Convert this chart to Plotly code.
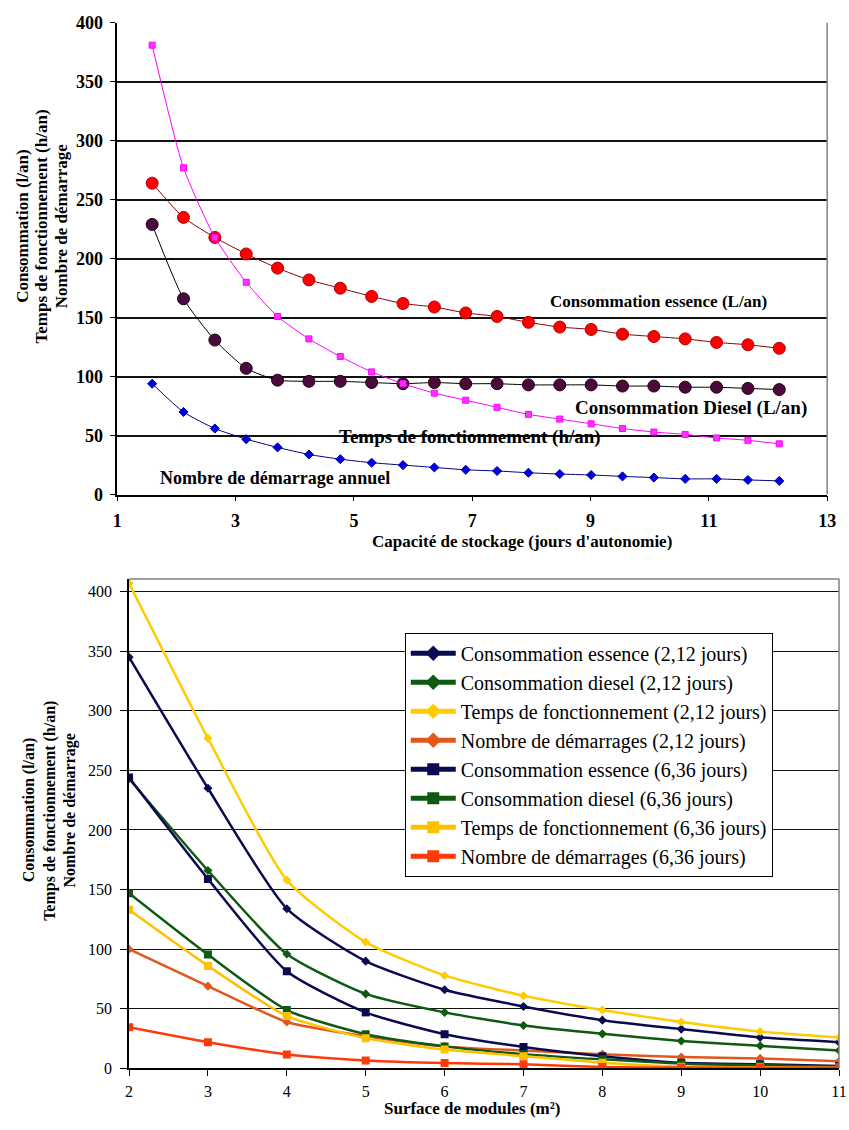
import plotly.graph_objects as go

# ---------------- Top chart data ----------------
capacite = [1.59, 2.12, 2.65, 3.18, 3.71, 4.24, 4.77, 5.30, 5.83, 6.36, 6.89,
            7.42, 7.95, 8.48, 9.01, 9.54, 10.07, 10.60, 11.13, 11.66, 12.19]
conso_essence = [264, 235, 218, 204, 192, 182, 175, 168, 162, 159, 154,
                 151, 146, 142, 140, 136, 134, 132, 129, 127, 124]
conso_diesel = [229, 166, 131, 107, 97, 96, 96, 95, 94, 95, 94,
                94, 93, 93, 93, 92, 92, 91, 91, 90, 89]
temps_fonct = [381, 277, 218, 180, 151, 132, 117, 104, 94, 86, 80,
               74, 68, 64, 60, 56, 53, 51, 48, 46, 43]
nb_demarrage = [94, 70, 56, 47, 40, 34, 30, 27, 25, 23, 21,
                20, 18.5, 17.4, 16.6, 15.4, 14.4, 13.3, 13.3, 12.4, 11.6]

# ---------------- Bottom chart data ----------------
surface = [2, 3, 4, 5, 6, 7, 8, 9, 10, 11]
ess_212 = [345, 235, 134, 90, 66, 52, 40.5, 33, 26, 22]
die_212 = [243, 166, 96, 62.5, 47, 36, 29, 23, 19, 15]
tps_212 = [407, 277, 158, 106, 78, 61, 49, 39, 31, 26]
nbd_212 = [100, 69, 39, 27, 18.5, 15, 12, 9.5, 8.4, 6]
ess_636 = [244, 159, 81.5, 47, 28.7, 18, 10.3, 4.8, 3.5, 2]
die_636 = [147, 95.5, 49, 28.7, 18.5, 12, 7.6, 4, 2.7, 1.5]
tps_636 = [133, 86, 44, 25.4, 15.8, 10.3, 4.8, 1.5, 1, 0.5]
nbd_636 = [34.5, 22, 11.7, 6.7, 4.5, 3.5, 1.2, 0.7, 0.5, 0.5]

legend_names = [
    "Consommation essence (2,12 jours)",
    "Consommation diesel (2,12 jours)",
    "Temps de fonctionnement (2,12 jours)",
    "Nombre de démarrages (2,12 jours)",
    "Consommation essence (6,36 jours)",
    "Consommation diesel (6,36 jours)",
    "Temps de fonctionnement (6,36 jours)",
    "Nombre de démarrages (6,36 jours)",
]
ytitle_lines = ["Consommation (l/an)", "Temps de fonctionnement (h/an)", "Nombre de démarrage"]

FONT = "Liberation Serif"
W, H = 849, 1130

def px(p):
    return p / W

def py(p):
    return (H - p) / H

fig = go.Figure()

# ---- top chart traces ----
top_series = [
    (conso_essence, "#8B0000", "circle", 12, "#FF0000", "#B00000"),
    (conso_diesel, "#000000", "circle", 12, "#4A0A3A", "#200018"),
    (temps_fonct, "#FF00FF", "square", 6, "#FF33FF", "#FF00FF"),
    (nb_demarrage, "#000080", "diamond", 7, "#0000E0", "#0000A0"),
]
for ys, lc, sym, sz, mc, mlc in top_series:
    fig.add_trace(go.Scatter(
        x=capacite, y=ys, mode="lines+markers", showlegend=False,
        line=dict(color=lc, width=1, shape="spline", smoothing=0.6),
        marker=dict(symbol=sym, size=sz, color=mc, line=dict(color=mlc, width=1)),
        xaxis="x", yaxis="y"))

# ---- bottom chart traces ----
bottom_series = [
    (ess_212, "#0A0A50", "diamond", 7),
    (die_212, "#0E5A12", "diamond", 7),
    (tps_212, "#FFCC00", "diamond", 7),
    (nbd_212, "#E2581C", "diamond", 7),
    (ess_636, "#0A0A50", "square", 8),
    (die_636, "#0E5A12", "square", 8),
    (tps_636, "#FFC000", "square", 8),
    (nbd_636, "#FF3A0A", "square", 8),
]
for i, (ys, c, sym, sz) in enumerate(bottom_series):
    fig.add_trace(go.Scatter(
        x=surface, y=ys, mode="lines+markers", name=legend_names[i],
        legendgroup=f"g{i}",
        line=dict(color=c, width=2.5, shape="spline", smoothing=0.6),
        marker=dict(symbol=sym, size=sz, color=c),
        xaxis="x2", yaxis="y2"))

fig.update_layout(
    width=W, height=H,
    margin=dict(l=0, r=0, t=0, b=0),
    paper_bgcolor="white", plot_bgcolor="white",
    font=dict(family=FONT, color="black"),
    xaxis=dict(domain=[px(115), px(836)], range=[1, 13], tickvals=[1, 3, 5, 7, 9, 11, 13],
               showgrid=False, zeroline=False, showline=True, linecolor="black",
               linewidth=1.5, ticks="outside", ticklen=5, tickcolor="black",
               tickfont=dict(size=18, family=FONT, weight="bold"),
               ticklabelstandoff=4, anchor="y"),
    yaxis=dict(domain=[py(493.3), py(13)], range=[0, 400], tickvals=list(range(0, 401, 50)),
               showgrid=True, gridcolor="#111111", gridwidth=1.5, zeroline=False,
               showline=True, linecolor="black", linewidth=1.5, ticks="outside",
               ticklen=5, tickcolor="black",
               tickfont=dict(size=18, family=FONT, weight="bold"),
               ticklabelstandoff=4, anchor="x", ticklabeloverflow="allow"),
    xaxis2=dict(domain=[px(127), px(848)], range=[2, 11], tickvals=list(range(2, 12)),
                showgrid=False, zeroline=False, showline=True, linecolor="black",
                linewidth=1.5, ticks="outside", ticklen=6, tickcolor="black",
                tickfont=dict(size=16, family=FONT),
                ticklabelstandoff=2, anchor="y2", ticklabeloverflow="allow"),
    yaxis2=dict(domain=[py(1077.5), py(579.3)], range=[0, 410.5], tickvals=list(range(0, 401, 50)),
                showgrid=True, gridcolor="#111111", gridwidth=1, zeroline=False,
                showline=True, linecolor="black", linewidth=1.5, ticks="outside",
                ticklen=7, tickcolor="black",
                tickfont=dict(size=16, family=FONT),
                ticklabelstandoff=5, anchor="x2"),
    legend=dict(x=px(407), y=py(634), xanchor="left", yanchor="top",
                bgcolor="white", bordercolor="black", borderwidth=1,
                font=dict(size=20, family=FONT, color="black"),
                tracegroupgap=0, itemwidth=45, itemsizing="constant"),
)

# gray top/right frame edges
shape_style = dict(color="#808080", width=1.5)
fig.add_shape(type="line", xref="x domain", yref="y domain", x0=1, x1=1, y0=0, y1=1,
              line=shape_style, layer="above")
fig.add_shape(type="line", xref="x2 domain", yref="y2 domain", x0=1, x1=1, y0=0, y1=1,
              line=shape_style, layer="above")
fig.add_shape(type="line", xref="x2 domain", yref="y2 domain", x0=0, x1=1, y0=1, y1=1,
              line=shape_style, layer="above")

def ann(text, xp, yp, size, bold=True, angle=0, yanchor="middle"):
    fig.add_annotation(
        text=text, x=px(xp), y=py(yp), xref="paper", yref="paper",
        showarrow=False, xanchor="center", yanchor=yanchor, textangle=angle,
        font=dict(size=size, family=FONT, color="black", weight="bold" if bold else "normal"))

for line, xp in zip(ytitle_lines, [18, 38, 58]):
    ann(line, xp, 220, 17, angle=-90)
for line, xp in zip(ytitle_lines, [25, 46, 67]):
    ann(line, xp, 815, 16, angle=-90)

ann("Capacité de stockage (jours d'autonomie)", 526, 541, 17)
ann("Surface de modules (m²)", 476, 1130, 17, yanchor="bottom")

ann("Consommation essence (L/an)", 665, 297, 17)
ann("Consommation Diesel (L/an)", 698, 405, 19)
ann("Temps de fonctionnement (h/an)", 473, 435, 19)
ann("Nombre de démarrage annuel", 275, 476, 18)

fig.write_html("out.html")
